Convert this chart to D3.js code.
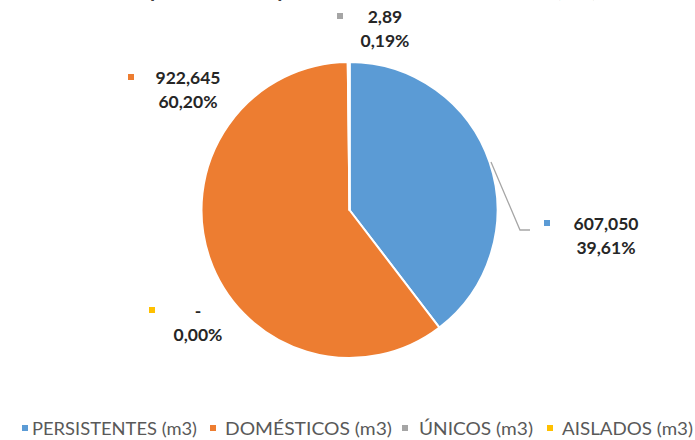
<!DOCTYPE html>
<html><head><meta charset="utf-8">
<script src="https://cdn.jsdelivr.net/npm/d3@7"></script>
<style>body{margin:0;background:#fff}svg{display:block}</style>
</head><body>
<svg id="c" width="695" height="440"></svg>
<script>
const categories = ["PERSISTENTES (m3)", "DOMÉSTICOS (m3)", "ÚNICOS (m3)", "AISLADOS (m3)"];
const values = [607.050, 922.645, 2.89, 0];
const valueLabels = ["607,050", "922,645", "2,89", "-"];
const colors = ["#5B9BD5", "#ED7D31", "#A5A5A5", "#FFC000"];
const title = "Comparación de tipos de vertimientos en el año (m3)";

const svg = d3.select("#c");
const cx = 349.5, cy = 210, R = 148;
const font = "Lato, 'Noto Sans', sans-serif";

svg.append("text").attr("x", 352).attr("y", -3).attr("text-anchor", "middle")
  .attr("font-family", font).attr("font-weight", "bold").attr("font-size", 21)
  .attr("fill", "#404040").text(title);

const total = d3.sum(values);
const pie = d3.pie().sort(null).value(d => d)(values);
const arc = d3.arc().innerRadius(0).outerRadius(R);
const g = svg.append("g").attr("transform", `translate(${cx},${cy})`);
g.selectAll("path").data(pie).join("path")
  .attr("d", arc).attr("fill", (d, i) => colors[i])
  .attr("stroke", "#fff").attr("stroke-width", 2).attr("stroke-linejoin", "round");

const fmtPct = v => (v * 100).toFixed(2).replace(".", ",") + "%";

// label layout (centre x of text, baseline y of first line, marker x)
const labelPos = [
  {x: 606, y: 230, mx: 547},
  {x: 188, y: 84, mx: 131},
  {x: 385, y: 23, mx: 340},
  {x: 198, y: 317, mx: 152}
];

// leader line for the first slice
svg.append("path")
  .attr("d", d3.line()([[491, 162], [520, 230], [530, 230]]))
  .attr("fill", "none").attr("stroke", "#A6A6A6").attr("stroke-width", 1.3);

const lab = svg.append("g");
pie.forEach((d, i) => {
  const p = labelPos[i];
  lab.append("rect").attr("x", p.mx - 3).attr("y", p.y - 10).attr("width", 6).attr("height", 6)
    .attr("fill", colors[i]);
  lab.append("text").attr("x", p.x).attr("y", p.y).attr("text-anchor", "middle")
    .attr("font-family", font).attr("font-weight", "bold").attr("font-size", 17.5)
    .attr("fill", "#262626").text(valueLabels[i]);
  lab.append("text").attr("x", p.x).attr("y", p.y + 24).attr("text-anchor", "middle")
    .attr("font-family", font).attr("font-weight", "bold").attr("font-size", 17.5)
    .attr("fill", "#262626").text(fmtPct(values[i] / total));
});

// legend
const legendMarkX = [25, 213, 405, 550];
const legendTextX = [32, 225, 419, 562];
const legendTextW = [165, 167, 114, 131];
const leg = svg.append("g");
categories.forEach((c, i) => {
  leg.append("rect").attr("x", legendMarkX[i] - 3).attr("y", 425).attr("width", 6).attr("height", 6)
    .attr("fill", colors[i]);
  leg.append("text").attr("x", legendTextX[i]).attr("y", 435)
    .attr("font-family", font).attr("font-size", 17).attr("fill", "#595959")
    .attr("textLength", legendTextW[i]).attr("lengthAdjust", "spacingAndGlyphs").text(c);
});
</script>
</body></html>
